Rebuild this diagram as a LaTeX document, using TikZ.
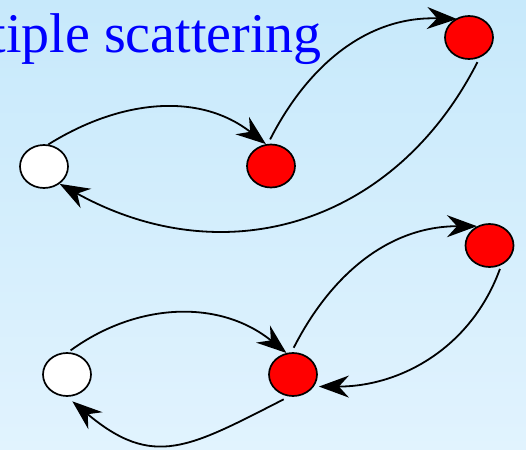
\documentclass[tikz,border=0pt]{standalone}
\usepackage{fontspec}
\setmainfont{Liberation Serif}
\usepackage{tikz}
\usetikzlibrary{shapes.geometric, arrows.meta}

\definecolor{bgtop}{RGB}{199,233,251}
\definecolor{bgbot}{RGB}{225,243,254}
\definecolor{titleblue}{RGB}{0,0,255}

\begin{document}
\begin{tikzpicture}[x=1pt, y=1pt,
    scat/.style={ellipse, draw=black, line width=1.7pt, minimum width=48pt, minimum height=43pt, inner sep=0pt},
    probe/.style={scat, fill=white},
    hit/.style={scat, fill=red},
    arr/.style={line width=1.8pt, -{Stealth[length=30pt, width=22pt, inset=10pt]}}]
  \shade[top color=bgtop, bottom color=bgbot] (0,0) rectangle (526,449);
  \useasboundingbox (0,0) rectangle (526,449);
  \node[anchor=base east, text=titleblue, font=\fontsize{56}{60}\selectfont, inner sep=0pt] (title) at (322,396) {tiple scattering};
  % upper chain
  \node[probe] (a1) at (44,282.5) {};
  \node[hit] (b1) at (271,283) {};
  \node[hit] (c1) at (469,411.5) {};
  \draw[arr] (a1.79) to[out=32, in=142] (b1.103);
  \draw[arr, shorten <=5pt, shorten >=-2pt] (b1.98) to[out=63, in=178] (c1.127);
  \draw[arr, shorten <=5pt] (c1.-62) to[out=-117, in=-29, looseness=1.1] (a1.-48);
  % lower chain
  \node[probe] (a2) at (67,74.5) {};
  \node[hit] (b2) at (293,74.5) {};
  \node[hit] (c2) at (489.5,203.5) {};
  \draw[arr, shorten <=3pt] (a2.87) to[out=36, in=141] (b2.107);
  \draw[arr, shorten <=5pt] (b2.94) to[out=63, in=180] (c2.123);
  \draw[arr, shorten <=4pt, shorten >=5pt] (c2.-59) to[out=-110, in=0] (b2.-30);
  \draw[arr, shorten <=6pt, shorten >=7pt] (b2.-100) to[out=-153, in=-40, looseness=1.3] (a2.-90);
\end{tikzpicture}
\end{document}
